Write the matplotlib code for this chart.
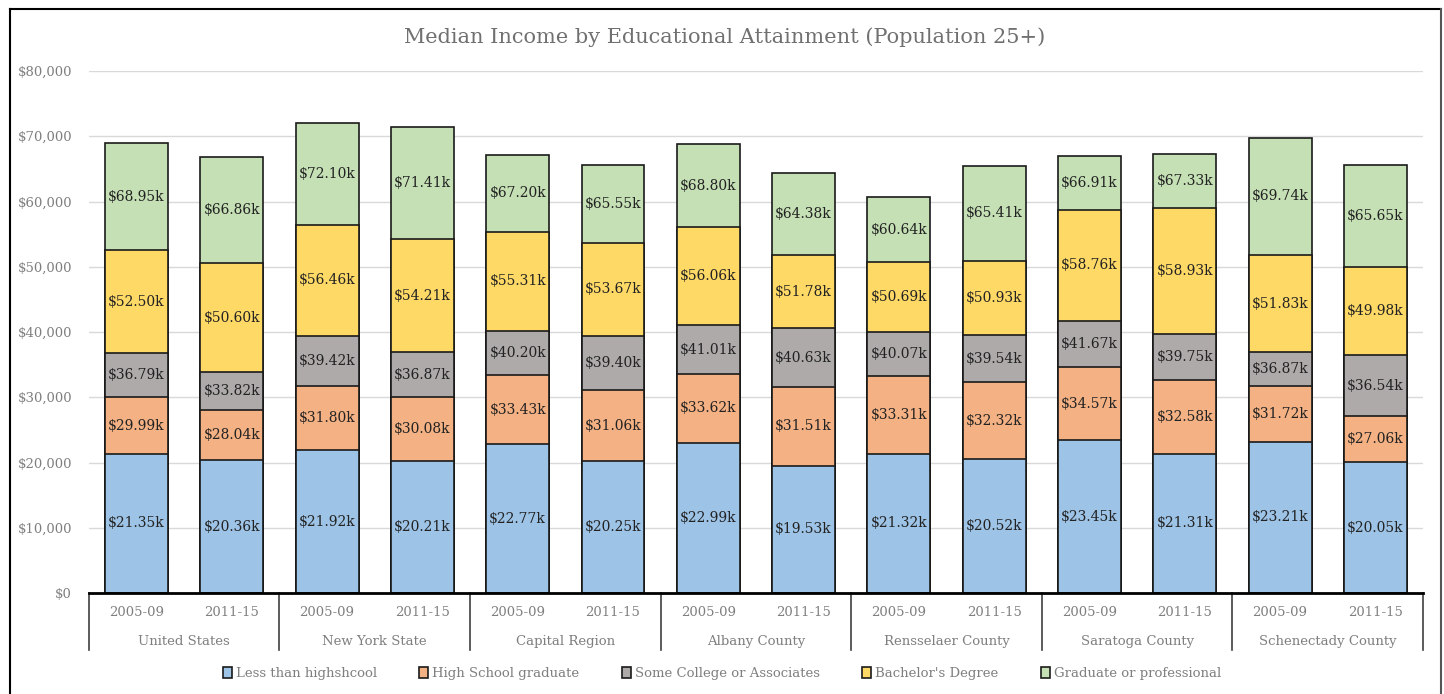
import numpy as np
import matplotlib.pyplot as plt
from matplotlib.lines import Line2D
from matplotlib.transforms import blended_transform_factory

plt.rcParams["font.family"] = ["DejaVu Serif", "DejaVu Sans"]

## DATA (median income, $k; each level is the cumulative label shown on the chart) ##
regions = ["United States", "New York State", "Capital Region", "Albany County",
           "Rensselaer County", "Saratoga County", "Schenectady County"]
periods = ["2005-09", "2011-15"]
levels = ["Less than highshcool", "High School graduate",
          "Some College or Associates", "Bachelor's Degree",
          "Graduate or professional"]

less_than_hs = [21.35, 20.36, 21.92, 20.21, 22.77, 20.25, 22.99, 19.53, 21.32, 20.52, 23.45, 21.31, 23.21, 20.05]
hs_graduate = [29.99, 28.04, 31.80, 30.08, 33.43, 31.06, 33.62, 31.51, 33.31, 32.32, 34.57, 32.58, 31.72, 27.06]
some_college = [36.79, 33.82, 39.42, 36.87, 40.20, 39.40, 41.01, 40.63, 40.07, 39.54, 41.67, 39.75, 36.87, 36.54]
bachelors = [52.50, 50.60, 56.46, 54.21, 55.31, 53.67, 56.06, 51.78, 50.69, 50.93, 58.76, 58.93, 51.83, 49.98]
graduate = [68.95, 66.86, 72.10, 71.41, 67.20, 65.55, 68.80, 64.38, 60.64, 65.41, 66.91, 67.33, 69.74, 65.65]

series = [less_than_hs, hs_graduate, some_college, bachelors, graduate]
colors = ["#9DC3E6", "#F4B183", "#AEAAAA", "#FFD966", "#C5E0B4"]

## FIGURE ##
fig = plt.figure(figsize=(14.44, 6.94), dpi=100)
ax = fig.add_axes([0.0615, 0.1455, 0.924, 0.7522])

x = np.arange(len(graduate))
width = 0.66

# Excel-style overlapping bars: tallest drawn first, each from zero
handles = []
for vals, col, lab, z in zip(series[::-1], colors[::-1], levels[::-1], range(5)):
    h = ax.bar(x, np.array(vals) * 1000, width, color=col, edgecolor="#1a1a1a",
               linewidth=1.2, label=lab, zorder=2 + z)
    handles.append(h)
handles = handles[::-1]

# data labels at middle of each visible segment
for i in range(len(x)):
    prev = 0
    for vals in series:
        v = vals[i]
        ax.text(x[i], (prev + v) / 2 * 1000, f"${v:.2f}k", ha="center", va="center",
                fontsize=10, color="#222222", zorder=10)
        prev = v

ax.set_xlim(-0.5, len(x) - 0.5)
ax.set_ylim(0, 80000)
ax.set_yticks(np.arange(0, 80001, 10000))
ax.set_yticklabels([f"${v:,.0f}" for v in np.arange(0, 80001, 10000)],
                   fontsize=9.5, color="#7f7f7f")
ax.yaxis.grid(True, color="#d9d9d9", linewidth=1)
ax.set_axisbelow(True)
ax.tick_params(axis="y", length=0, pad=12)

ax.set_xticks(x)
ax.set_xticklabels(periods * len(regions), fontsize=9.5, color="#7f7f7f")
ax.tick_params(axis="x", length=0, pad=9)

for s in ["top", "right", "left"]:
    ax.spines[s].set_visible(False)
ax.spines["bottom"].set_color("black")
ax.spines["bottom"].set_linewidth(2)
ax.spines["bottom"].set_zorder(20)

# group labels and separators below the axis
trans = blended_transform_factory(ax.transData, ax.transAxes)
for g, name in enumerate(regions):
    ax.text(2 * g + 0.5, -0.092, name, transform=trans, ha="center", va="center",
            fontsize=9.5, color="#7f7f7f")
for b in np.arange(-0.5, len(x), 2):
    ax.plot([b, b], [0, -0.11], transform=trans, color="#404040", linewidth=1.2,
            clip_on=False)

fig.text(0.502, 0.9467, "Median Income by Educational Attainment (Population 25+)",
         ha="center", va="center", fontsize=15, color="#707070")

fig.legend(handles=handles, labels=levels, loc="center", bbox_to_anchor=(0.5, 0.03),
           ncol=5, frameon=False, fontsize=9.5, handlelength=0.7, handleheight=0.9,
           handletextpad=0.3, columnspacing=3.2, labelcolor="#7f7f7f")

# outer frame
fig.add_artist(Line2D([0.007, 0.998], [0.987, 0.987], transform=fig.transFigure,
                      color="black", linewidth=1.5))
fig.add_artist(Line2D([0.007, 0.007], [0.0, 0.987], transform=fig.transFigure,
                      color="black", linewidth=1.5))
fig.add_artist(Line2D([0.998, 0.998], [0.0, 0.987], transform=fig.transFigure,
                      color="#555555", linewidth=1.5))

fig.savefig("out.png", dpi=100)
